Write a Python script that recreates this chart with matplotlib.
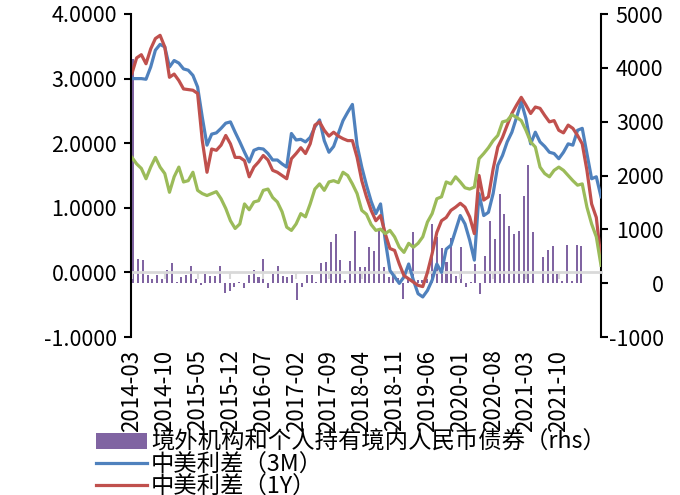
import matplotlib
matplotlib.use('Agg')
import matplotlib.pyplot as plt
from matplotlib.patches import Patch
from matplotlib.lines import Line2D

plt.rcParams['font.family'] = ['Noto Sans CJK SC', 'DejaVu Sans']
plt.rcParams['axes.unicode_minus'] = False

# monthly spreads, 2014-03 .. 2022-07
spread_3m = [3.00, 3.00, 3.00, 2.99, 3.18, 3.44, 3.53, 3.49, 3.18, 3.28,
             3.24, 3.15, 3.13, 3.05, 2.87, 2.40, 1.97, 2.14, 2.16, 2.23,
             2.31, 2.33, 2.17, 2.02, 1.86, 1.71, 1.89, 1.92, 1.91, 1.84,
             1.74, 1.74, 1.68, 1.63, 2.15, 2.05, 2.06, 2.02, 2.09, 2.25,
             2.36, 2.04, 1.86, 1.95, 2.15, 2.35, 2.48, 2.60, 1.97, 1.63,
             1.35, 1.10, 0.91, 1.06, 0.50, 0.03, -0.07, -0.17, -0.07, 0.13,
             -0.12, -0.33, -0.38, -0.28, -0.12, 0.13, 0.00, 0.36, 0.42, 0.65,
             0.88, 0.75, 0.50, 0.19, 1.22, 0.88, 0.93, 1.22, 1.66, 1.81,
             2.02, 2.17, 2.40, 2.64, 2.38, 1.99, 2.17, 2.02, 1.95, 1.86,
             1.84, 1.76, 1.86, 1.99, 1.97, 2.20, 2.23, 1.84, 1.45, 1.48,
             1.17]
spread_1y = [3.08, 3.32, 3.37, 3.23, 3.46, 3.62, 3.67, 3.49, 3.02, 3.07,
             2.97, 2.84, 2.83, 2.82, 2.77, 2.04, 1.55, 1.91, 1.89, 1.97,
             2.12, 1.99, 1.78, 1.78, 1.73, 1.48, 1.63, 1.71, 1.81, 1.74,
             1.58, 1.55, 1.50, 1.45, 1.76, 1.84, 1.93, 1.84, 1.99, 2.28,
             2.33, 2.20, 2.11, 2.17, 2.11, 2.07, 2.04, 2.04, 1.78, 1.42,
             1.17, 0.96, 0.80, 0.88, 0.60, 0.37, 0.34, 0.13, -0.05, -0.10,
             -0.15, -0.20, -0.22, 0.00, 0.29, 0.62, 0.80, 0.85, 0.96, 1.01,
             1.07, 1.01, 0.86, 0.60, 1.50, 1.12, 1.17, 1.60, 1.94, 2.09,
             2.28, 2.46, 2.59, 2.71, 2.59, 2.46, 2.56, 2.54, 2.43, 2.33,
             2.35, 2.20, 2.16, 2.28, 2.23, 2.12, 1.99, 1.58, 1.06, 0.85,
             0.20]
spread_10y = [1.78, 1.68, 1.61, 1.45, 1.63, 1.78, 1.63, 1.53, 1.24, 1.48,
              1.63, 1.40, 1.42, 1.55, 1.27, 1.22, 1.19, 1.22, 1.25, 1.14,
              0.99, 0.80, 0.68, 0.75, 1.06, 0.97, 1.09, 1.11, 1.27, 1.29,
              1.16, 1.09, 0.94, 0.70, 0.65, 0.75, 0.91, 0.86, 1.06, 1.29,
              1.37, 1.27, 1.40, 1.42, 1.39, 1.55, 1.50, 1.37, 1.22, 0.96,
              0.90, 0.74, 0.65, 0.67, 0.60, 0.65, 0.55, 0.39, 0.31, 0.45,
              0.39, 0.45, 0.55, 0.78, 0.91, 1.14, 1.17, 1.40, 1.37, 1.48,
              1.40, 1.31, 1.29, 1.32, 1.76, 1.84, 1.93, 2.04, 2.12, 2.33,
              2.35, 2.44, 2.40, 2.35, 2.20, 2.02, 1.94, 1.63, 1.53, 1.48,
              1.58, 1.63, 1.58, 1.50, 1.42, 1.35, 1.37, 1.01, 0.75, 0.55,
              0.11]

# foreign holdings of onshore RMB bonds, monthly change (rhs)
holdings = [4160, 457, 426, 155, 75, 155, 86, 240, 376, 25,
            117, 155, 320, 75, -37, 165, 125, 140, 310, -191,
            -150, -75, 25, -99, 148, 240, 117, 457, -99, 167,
            315, 130, 117, 160, -315, -68, 148, 160, 25, 376,
            395, 765, 907, 438, 56, 413, 969, 302, 302, 672,
            592, 981, 300, 120, 210, 100, -300, 100, 955, 60,
            50, 100, 1100, 858, 660, 395, 845, 140, 672, -70,
            25, 364, -204, 500, 1148, 827, 1660, 1290, 1055, 919,
            969, 1610, 2197, 950, 5, 487, 623, 691, 167, 37,
            716, 37, 716, 697]

tick_labels = ['2014-03', '2014-10', '2015-05', '2015-12', '2016-07', '2017-02',
               '2017-09', '2018-04', '2018-11', '2019-06', '2020-01', '2020-08',
               '2021-03', '2021-10']
left_ticks = [-1, 0, 1, 2, 3, 4]
left_labels = ['-1.0000', '0.0000', '1.0000', '2.0000', '3.0000', '4.0000']
right_ticks = [-1000, 0, 1000, 2000, 3000, 4000, 5000]
right_labels = ['-1000', '0', '1000', '2000', '3000', '4000', '5000']

blue = '#4f81bd'
red = '#c0504d'
green = '#9bbb59'
purple = '#8064a2'
fs = 15.5

fig = plt.figure(figsize=(6.8, 4.95), dpi=100)
rect = [131 / 680, 1 - 337 / 495, 470 / 680, 323 / 495]

# bars on their own (secondary) axes
axb = fig.add_axes(rect)
axb.bar(range(len(holdings)), holdings, width=0.42, color=purple, zorder=1)
axb.set_xlim(-0.45, 97.05)
axb.set_ylim(-1000, 5000)
axb.set_xticks([])
axb.yaxis.tick_right()
axb.set_yticks(right_ticks)
axb.set_yticklabels(right_labels, fontsize=fs)
for lbl in axb.get_yticklabels():
    lbl.set_horizontalalignment('right')
axb.tick_params(axis='y', direction='out', length=5, width=1.5, pad=40)
for s in ['top', 'bottom', 'left']:
    axb.spines[s].set_visible(False)
axb.spines['right'].set_linewidth(1.5)

# spreads on primary axes, drawn above the bars
ax = fig.add_axes(rect)
ax.set_zorder(axb.get_zorder() + 1)
ax.patch.set_visible(False)
months = list(range(len(spread_3m)))
ax.plot(months, spread_3m, color=blue, lw=2.3)
ax.plot(months, spread_1y, color=red, lw=2.3)
ax.plot(months, spread_10y, color=green, lw=2.3)
ax.set_xlim(-0.2, len(months) - 1)
ax.set_ylim(-1, 4)
ax.set_yticks(left_ticks)
ax.set_yticklabels(left_labels, fontsize=fs)
ax.tick_params(axis='y', direction='out', length=5, width=1.5, pad=5)
ax.spines['left'].set_linewidth(1.5)
ax.spines['top'].set_visible(False)
ax.spines['right'].set_visible(False)
ax.spines['bottom'].set_position(('data', 0))
ax.spines['bottom'].set_color('#d9d9d9')
ax.spines['bottom'].set_linewidth(2)
ax.spines['bottom'].set_zorder(0.5)
xt = [7 * i for i in range(len(tick_labels))]
ax.set_xticks(xt)
ax.tick_params(axis='x', direction='out', length=5, width=1.5, color='#d9d9d9',
               labelbottom=False)

sec = ax.secondary_xaxis('bottom')
sec.set_xticks(xt)
sec.set_xticklabels(tick_labels, rotation=90, fontsize=16)
sec.tick_params(length=0, pad=9)
sec.spines['bottom'].set_visible(False)

handles = [Patch(facecolor=purple, edgecolor='none'),
           Line2D([], [], color=blue, lw=2.3),
           Line2D([], [], color=red, lw=2.3),
           Line2D([], [], color=green, lw=2.3)]
labels = ['境外机构和个人持有境内人民币债券（rhs）', '中美利差（3M）', '中美利差（1Y）', '中美利差（10Y）']
fig.legend(handles, labels, loc='upper left', bbox_to_anchor=(96 / 680, 1 - 431 / 495),
           frameon=False, fontsize=16.8, borderpad=0, borderaxespad=0,
           handlelength=2.2, handletextpad=0.15, labelspacing=-0.03)

fig.savefig('out.png', dpi=100)
